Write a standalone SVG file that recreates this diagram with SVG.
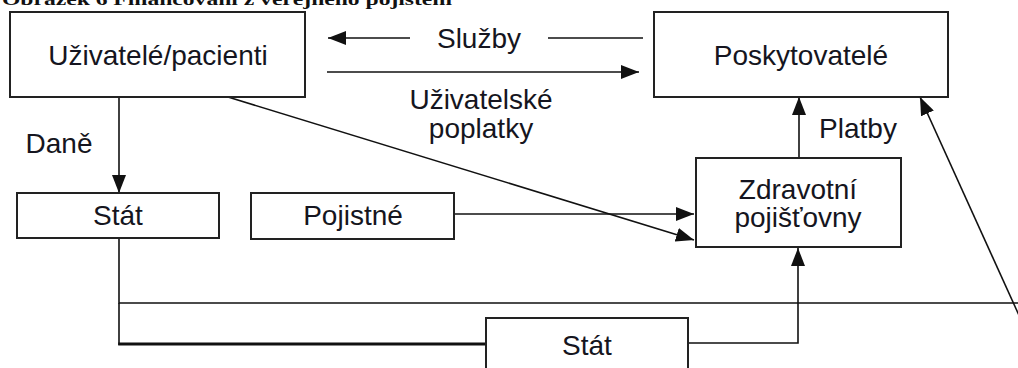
<svg xmlns="http://www.w3.org/2000/svg" width="1018" height="368" viewBox="0 0 1018 368">
  <defs>
    <marker id="ah" markerUnits="userSpaceOnUse" markerWidth="18" markerHeight="14" refX="18" refY="7" orient="auto">
      <path d="M0,0 L18,7 L0,14 z" fill="#111"/>
    </marker>
    <style>
      .box { fill: #fff; stroke: #222; stroke-width: 2; }
      .lbl { font-family: "Liberation Sans", Arial, sans-serif; font-size: 28px; fill: #151520; text-anchor: middle; }
      .ln { fill: none; stroke: #111; stroke-width: 1.6; }
      .title { font-family: "Liberation Serif", "Times New Roman", serif; font-weight: bold; font-size: 16px; fill: #111; }
    </style>
  </defs>
  <rect width="1018" height="368" fill="#fff"/>
  <text class="title" x="2" y="5" textLength="450" lengthAdjust="spacingAndGlyphs">Obrázek 6 Financování z veřejného pojištění</text>

  <g id="connectors">
    <line class="ln" x1="410" y1="38" x2="328" y2="38" marker-end="url(#ah)"/>
    <line class="ln" x1="548" y1="38" x2="643" y2="38"/>
    <line class="ln" x1="327" y1="72" x2="639" y2="72" marker-end="url(#ah)"/>
    <line class="ln" x1="119" y1="97" x2="119" y2="193" marker-end="url(#ah)"/>
    <line class="ln" x1="228" y1="97" x2="694" y2="240" marker-end="url(#ah)"/>
    <line class="ln" x1="454" y1="214" x2="694" y2="214" marker-end="url(#ah)"/>
    <line class="ln" x1="799" y1="158" x2="799" y2="97" marker-end="url(#ah)"/>
    <line class="ln" x1="1022" y1="322" x2="920" y2="97" marker-end="url(#ah)"/>
    <polyline class="ln" points="119,238 119,303 1018,303"/>
    <line x1="118.2" y1="344" x2="486" y2="344" stroke="#111" stroke-width="3.2"/>
    <line class="ln" x1="119" y1="303" x2="119" y2="345"/>
    <polyline class="ln" points="688,343 798,343 798,248" marker-end="url(#ah)"/>
  </g>

  <g id="uzivatele">
    <rect class="box" x="10" y="12" width="295" height="85"/>
    <text class="lbl" x="158" y="65">Uživatelé/pacienti</text>
  </g>
  <g id="poskytovatele">
    <rect class="box" x="654" y="12" width="294" height="85"/>
    <text class="lbl" x="801" y="65">Poskytovatelé</text>
  </g>
  <g id="stat1">
    <rect class="box" x="17" y="193" width="202" height="45"/>
    <text class="lbl" x="118" y="225">Stát</text>
  </g>
  <g id="pojistne">
    <rect class="box" x="251" y="193" width="203" height="46"/>
    <text class="lbl" x="353" y="225">Pojistné</text>
  </g>
  <g id="pojistovny">
    <rect class="box" x="696" y="158" width="205" height="89"/>
    <text class="lbl" x="798" y="199">Zdravotní</text>
    <text class="lbl" x="798" y="227">pojišťovny</text>
  </g>
  <g id="stat2">
    <rect class="box" x="486" y="318" width="202" height="70"/>
    <text class="lbl" x="587" y="355">Stát</text>
  </g>
  <g id="labels">
    <text class="lbl" x="479" y="48">Služby</text>
    <text class="lbl" x="481" y="109">Uživatelské</text>
    <text class="lbl" x="481" y="138">poplatky</text>
    <text class="lbl" x="59" y="153">Daně</text>
    <text class="lbl" x="858" y="138">Platby</text>
  </g>
</svg>
